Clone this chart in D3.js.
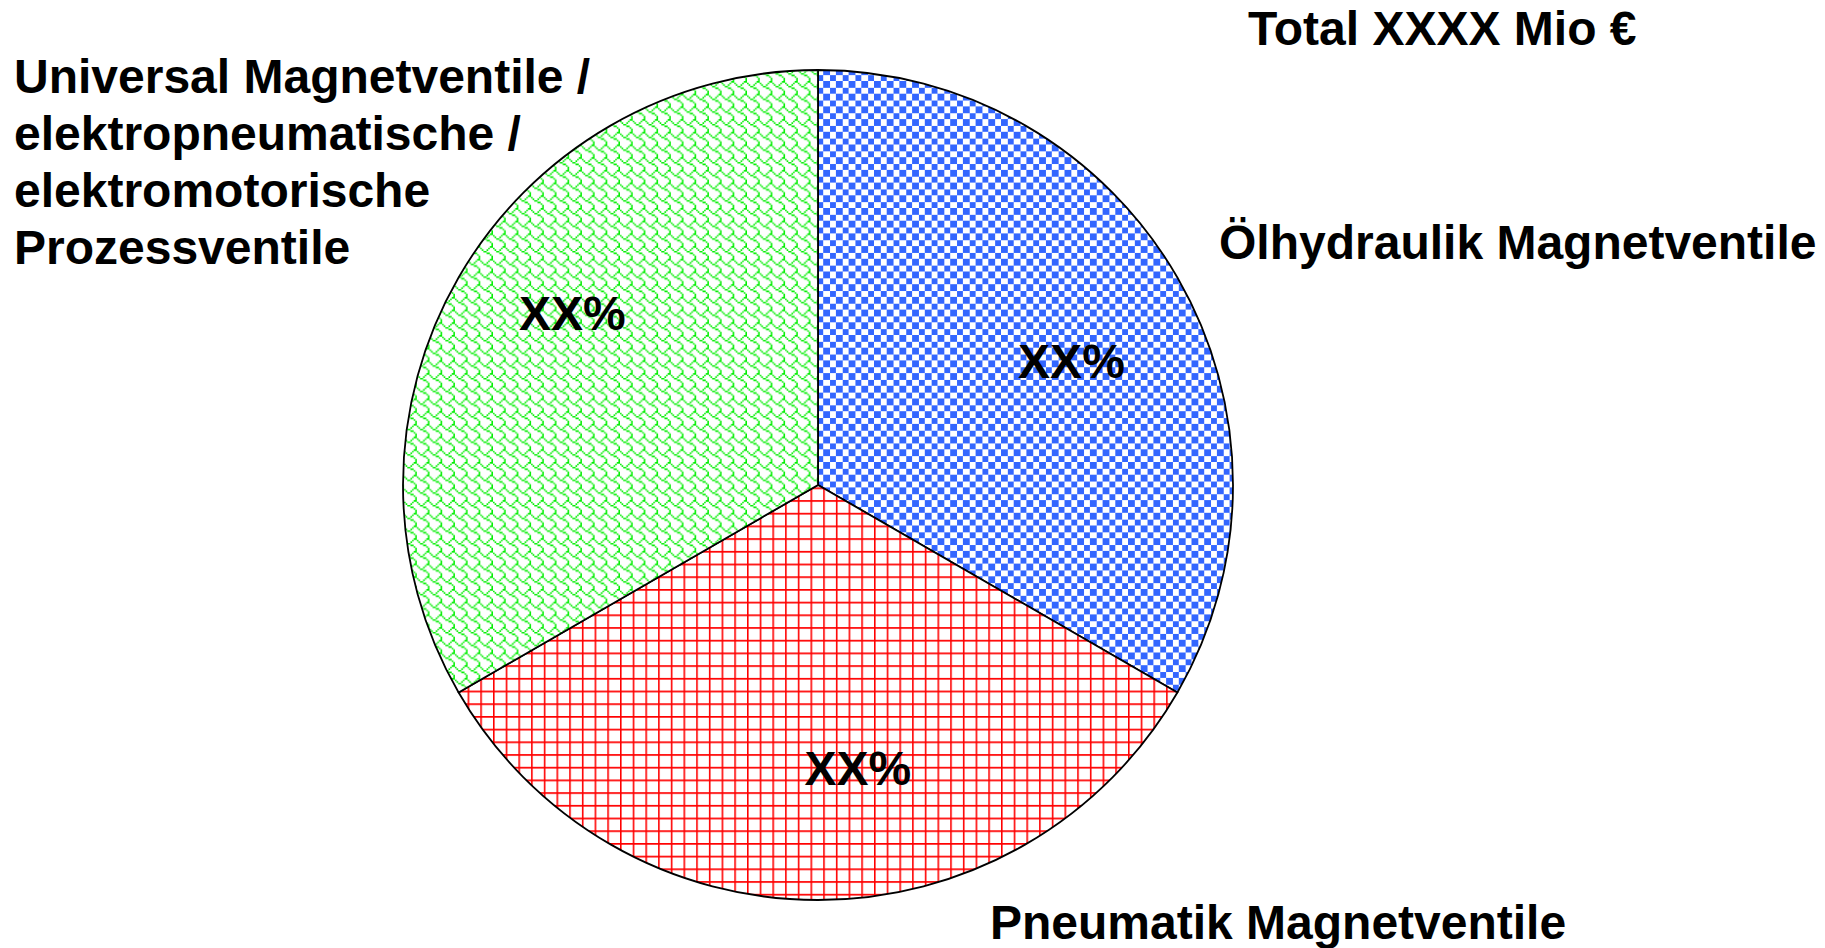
<!DOCTYPE html>
<html>
<head>
<meta charset="utf-8">
<script src="https://cdn.jsdelivr.net/npm/d3@7"></script>
<style>
  html, body { margin: 0; padding: 0; background: #fff; }
  svg { display: block; }
  text { font-family: "Liberation Sans", Arial, sans-serif; font-weight: bold; fill: #000; }
</style>
</head>
<body>
<svg id="chart" width="1825" height="948"></svg>
<script>
// ---- data ----
const categories = ["Ölhydraulik Magnetventile", "Pneumatik Magnetventile", "Universal Magnetventile / elektropneumatische / elektromotorische Prozessventile"];
const shares = [33.3, 33.3, 33.3];
const shareLabels = ["XX%", "XX%", "XX%"];
const totalLabel = "Total XXXX Mio €";

// ---- layout / style (not data) ----
const W = 1825, H = 948;
const cx = 818, cy = 485, R = 415;
const colors = ["#3366ff", "#ff0000", "#00ee00"];
const pctLabelPos = [ {angle: 64, r: 282}, {angle: 172, r: 286}, {angle: 305, r: 300} ];
const catLabelLayout = [
  {x: 1219, y: 259, lines: ["Ölhydraulik Magnetventile"]},
  {x: 990, y: 939, lines: ["Pneumatik Magnetventile"]},
  {x: 14, y: 93, lines: ["Universal Magnetventile /", "elektropneumatische /", "elektromotorische", "Prozessventile"]}
];
const lineH = 57;

const svg = d3.select("#chart");
const defs = svg.append("defs");
const S = 12.7 / 8; // 8x8 hatch bitmap scale

// hatch bitmaps (8 rows, bit 7 = left)
const bitmaps = [
  [0xF0,0xF0,0xF0,0xF0,0x0F,0x0F,0x0F,0x0F], // large checkerboard
  [0xFF,0x80,0x80,0x80,0x80,0x80,0x80,0x80], // large grid
  [0x03,0x84,0x48,0x30,0x0C,0x02,0x01,0x01]  // shingle
];
bitmaps.forEach((bm, i) => {
  const p = defs.append("pattern")
    .attr("id", "pat" + i)
    .attr("patternUnits", "userSpaceOnUse")
    .attr("width", 8).attr("height", 8)
    .attr("patternTransform", `translate(${cx},${cy}) scale(${S})`);
  p.append("rect").attr("width", 8).attr("height", 8).attr("fill", "#fff");
  let d = "";
  bm.forEach((row, y) => {
    for (let x = 0; x < 8; x++) {
      if (row & (0x80 >> x)) d += `M${x},${y}h1v1h-1z`;
    }
  });
  p.append("path").attr("d", d).attr("fill", colors[i]).attr("shape-rendering", i === 0 ? "crispEdges" : "auto");
});

const pie = d3.pie().sort(null).value(d => d).startAngle(0).endAngle(2 * Math.PI);
const arcs = pie(shares);
const arc = d3.arc().innerRadius(0).outerRadius(R);

const g = svg.append("g").attr("transform", `translate(${cx},${cy})`);
g.selectAll("path.slice").data(arcs).join("path")
  .attr("class", "slice")
  .attr("d", arc)
  .attr("fill", (d, i) => `url(#pat${i})`)
  .attr("stroke", "#000")
  .attr("stroke-width", 1.8)
  .attr("stroke-linejoin", "round");

// percent labels
g.selectAll("text.pct").data(arcs).join("text")
  .attr("class", "pct")
  .attr("x", (d, i) => pctLabelPos[i].r * Math.sin(pctLabelPos[i].angle * Math.PI / 180))
  .attr("y", (d, i) => -pctLabelPos[i].r * Math.cos(pctLabelPos[i].angle * Math.PI / 180))
  .attr("dy", "0.35em")
  .attr("text-anchor", "middle")
  .attr("font-size", 48)
  .text((d, i) => shareLabels[i]);

// category labels
catLabelLayout.forEach((L, i) => {
  const t = svg.append("text").attr("font-size", 48).attr("x", L.x).attr("y", L.y);
  L.lines.forEach((ln, j) => {
    t.append("tspan").attr("x", L.x).attr("y", L.y + j * lineH).text(ln);
  });
});

// total
svg.append("text").attr("x", 1248).attr("y", 45).attr("font-size", 48).text(totalLabel);
</script>
</body>
</html>
